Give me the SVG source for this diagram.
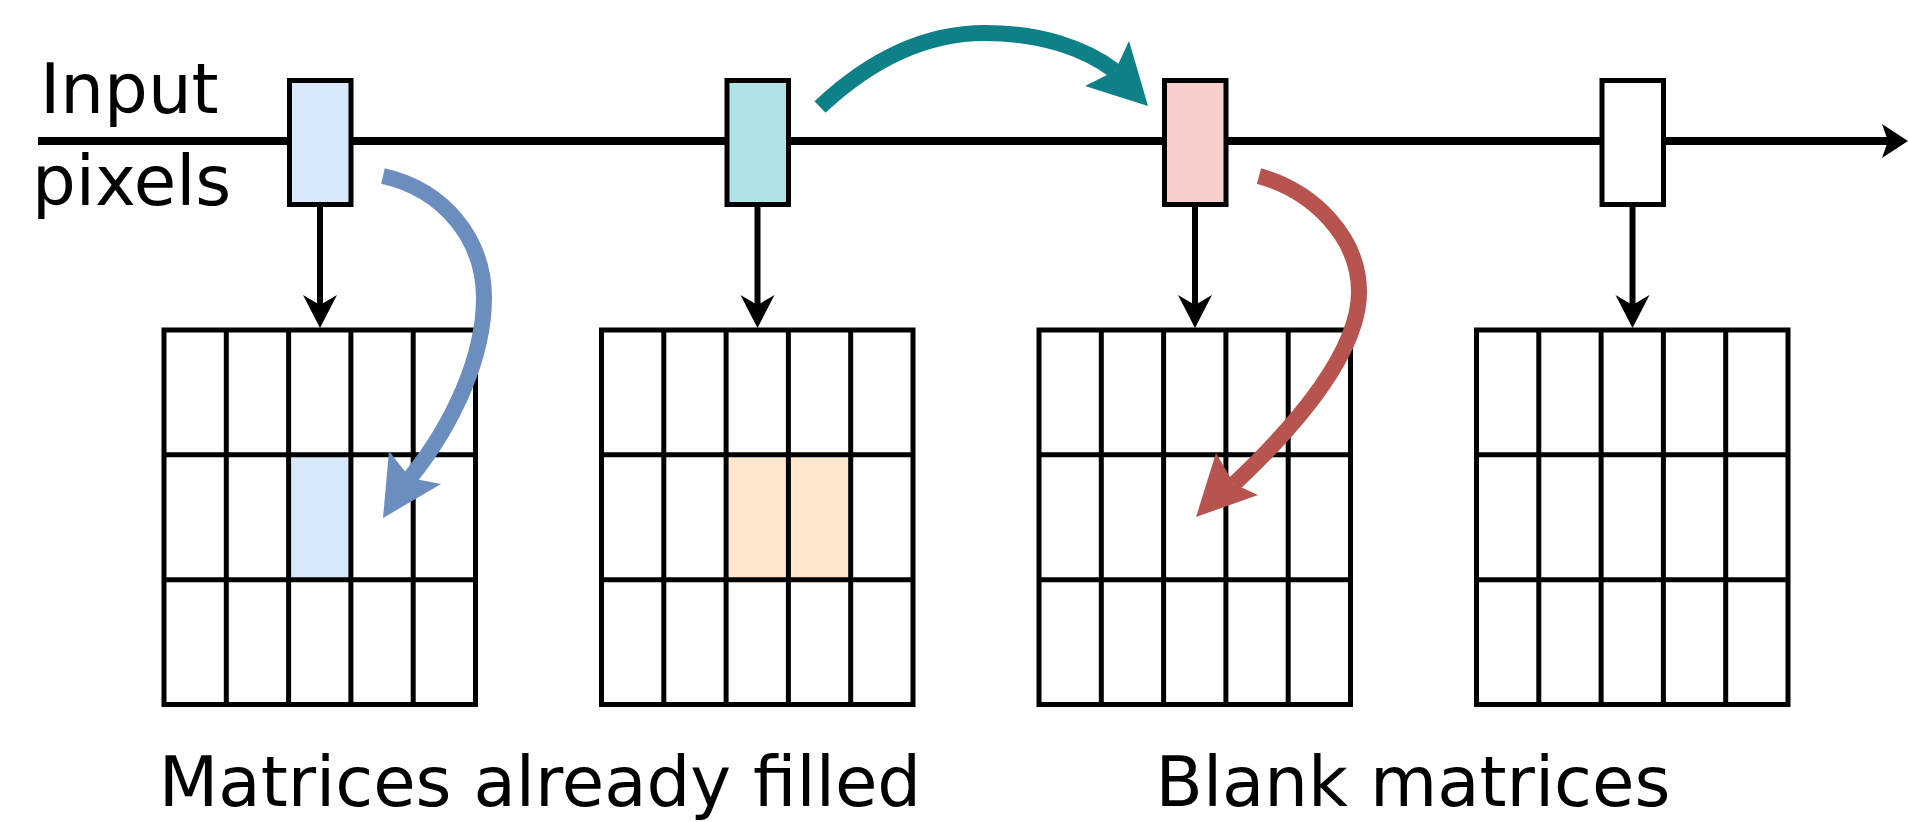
<svg xmlns="http://www.w3.org/2000/svg" width="1908" height="822" viewBox="0 0 1908 822">
<style>
.t{font-family:"DejaVu Sans","Liberation Sans",sans-serif;font-size:69px;fill:#000}
.box{stroke:#000;stroke-width:5}
.grid{fill:none;stroke:#000;stroke-width:5}
.ln{stroke:#000;fill:none}
.blue{fill:none;stroke:#6c8ebf;stroke-width:16}
.red{fill:none;stroke:#b85450;stroke-width:16}
.teal{fill:none;stroke:#0e8088;stroke-width:16}
</style>
<defs>
<path id="dhead" d="M320,328 L303,295 L320,305 L337,295 Z" fill="#000"/>
<g id="gridlines">
<rect x="164" y="330" width="311.5" height="374.5"/>
<path d="M226.3,330V704.5M288.6,330V704.5M350.9,330V704.5M413.2,330V704.5M164,454.8H475.5M164,579.7H475.5"/>
</g>
</defs>
<g id="connectors">
<path class="ln" d="M38,141H1889" stroke-width="8"/>
<path d="M1908,141 L1882,124 L1888,141 L1882,158 Z" fill="#000"/>
<g stroke="#000" stroke-width="6">
<path d="M320,205V306"/>
<path d="M757.5,205V306"/>
<path d="M1195,205V306"/>
<path d="M1632.5,205V306"/>
</g>
<use href="#dhead"/>
<use href="#dhead" x="437.5"/>
<use href="#dhead" x="875"/>
<use href="#dhead" x="1312.5"/>
</g>
<g id="pixel1"><rect class="box" x="289.5" y="80.5" width="61.5" height="124" fill="#dae8fc"/></g>
<g id="pixel2"><rect class="box" x="727" y="80.5" width="61.5" height="124" fill="#b0e3e6"/></g>
<g id="pixel3"><rect class="box" x="1164.5" y="80.5" width="61.5" height="124" fill="#f8cecc"/></g>
<g id="pixel4"><rect class="box" x="1602" y="80.5" width="61.5" height="124" fill="#ffffff"/></g>
<g id="matrix1">
<rect x="288.6" y="454.8" width="62.3" height="124.9" fill="#dae8fc"/>
<use href="#gridlines" class="grid"/>
</g>
<g id="matrix2">
<rect x="726.1" y="454.8" width="124.6" height="124.9" fill="#ffe6cc"/>
<use href="#gridlines" class="grid" x="437.5"/>
</g>
<g id="matrix3"><use href="#gridlines" class="grid" x="875"/></g>
<g id="matrix4"><use href="#gridlines" class="grid" x="1312.5"/></g>
<g id="curved-arrows">
<path class="blue" d="M383,176 C445,190 484,240 484,298 C484,355 455,422 410,478"/>
<path d="M383,518 L389,451 L410,478 L441,484 Z" fill="#6c8ebf"/>
<path class="red" d="M1259,176 C1315,192 1359,238 1359,292 C1359,350 1300,422 1234,484"/>
<path d="M1196,517 L1216,453 L1234,484 L1258,495 Z" fill="#b85450"/>
<path class="teal" d="M820,107 C870,60 925,33 985,33 C1040,33 1085,48 1115,71"/>
<path d="M1148,106 L1129,41 L1115,71 L1085,86 Z" fill="#0e8088"/>
</g>
<g id="labels">
<text class="t" x="40" y="113">Input</text>
<text class="t" x="32" y="205">pixels</text>
<text class="t" x="540" y="806" text-anchor="middle">Matrices already filled</text>
<text class="t" x="1413" y="806" text-anchor="middle">Blank matrices</text>
</g>
</svg>
